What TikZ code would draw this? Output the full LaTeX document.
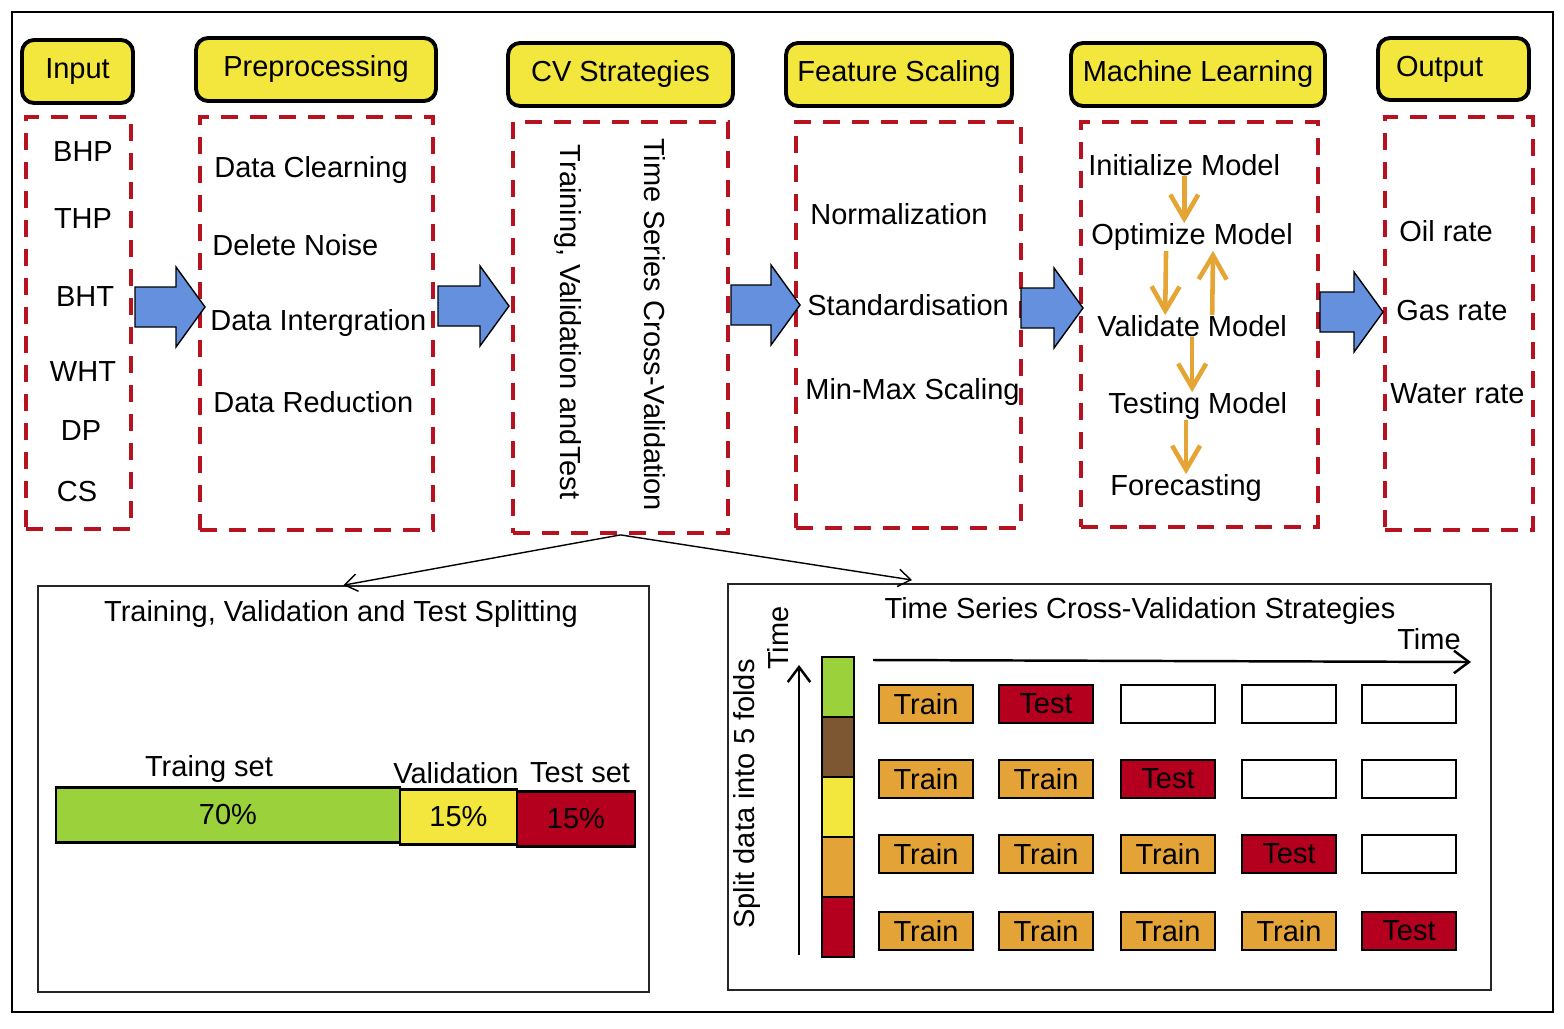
\documentclass[tikz,border=0pt]{standalone}
\usepackage{fontspec}
\setmainfont{Liberation Sans}
\usetikzlibrary{arrows.meta}

\definecolor{hdryellow}{RGB}{243,230,60}
\definecolor{dashred}{RGB}{182,18,32}
\definecolor{arrowblue}{RGB}{101,144,222}
\definecolor{mlorange}{RGB}{228,165,52}
\definecolor{trainorange}{RGB}{228,163,55}
\definecolor{testred}{RGB}{180,0,30}
\definecolor{setgreen}{RGB}{155,210,60}
\definecolor{foldbrown}{RGB}{125,86,50}

% block arrow: start x, centre y, length (in px units)
\newcommand{\blockarrow}[3]{%
  \draw[fill=arrowblue, line width=0.8pt] (#1,#2-20) -- ++(#3-29,0) -- ++(0,-20) -- (#1+#3,#2)
    -- (#1+#3-29,#2+40) -- ++(0,-20) -- (#1,#2+20) -- cycle;}

\begin{document}
\begin{tikzpicture}[x=0.02cm, y=-0.02cm,
  every node/.style={font=\fontsize{16.5}{19}\selectfont},
  header/.style={draw, line width=2.2pt, rounded corners=0.24cm, fill=hdryellow, minimum height=1.26cm, inner sep=0pt},
  dashbox/.style={draw=dashred, line width=2.2pt, dash pattern=on 0.34cm off 0.24cm, inner sep=0pt},
  item/.style={inner sep=0pt},
  listitem/.style={inner sep=0pt, anchor=west},
  mlarrow/.style={draw=mlorange, line width=2.6pt, -{Straight Barb[length=0.48cm, width=0.56cm]}},
  linkarrow/.style={line width=0.8pt, -{Straight Barb[length=0.25cm, width=0.35cm]}},
  timearrow/.style={line width=1.4pt, -{Straight Barb[length=0.3cm, width=0.45cm]}},
  panel/.style={draw=black!85, line width=1pt, minimum height=8.12cm, inner sep=0pt},
  barseg/.style={draw, line width=1.5pt, minimum height=1.1cm, inner sep=0pt},
  foldseg/.style={draw, line width=1.2pt, minimum width=0.64cm, minimum height=1.2cm, inner sep=0pt},
  cell/.style={draw, line width=1.5pt, minimum width=1.88cm, minimum height=0.76cm, inner sep=0pt},
  traincell/.style={cell, fill=trainorange},
  testcell/.style={cell, fill=testred},
  emptycell/.style={cell, fill=white}]

\useasboundingbox (0,0) rectangle (1564,1028);
\draw[line width=1.6pt] (12,12) rectangle (1553,1012);

\node[header, minimum width=2.22cm] (hin) at (77.5,71.5) {Input};
\node[header, minimum width=4.8cm] (hpre) at (316,69.5) {Preprocessing};
\node[header, minimum width=4.5cm] (hcv) at (620.5,74.5) {CV Strategies};
\node[header, minimum width=4.52cm] (hfs) at (899,74.5) {Feature Scaling};
\node[header, minimum width=5.08cm] (hml) at (1198,74.5) {Machine Learning};
\node[header, minimum height=1.24cm, text width=2.3cm, inner xsep=0.36cm, align=left] (hout) at (1453.5,69) {Output};

\node[dashbox, minimum width=2.1cm, minimum height=8.24cm] (inbox) at (78.5,323) {};
\node[dashbox, minimum width=4.66cm, minimum height=8.26cm] (prebox) at (316.5,323.5) {};
\node[dashbox, minimum width=4.3cm, minimum height=8.22cm] (cvbox) at (620.5,327.5) {};
\node[dashbox, minimum width=4.5cm, minimum height=8.12cm] (fsbox) at (908.5,325) {};
\node[dashbox, minimum width=4.74cm, minimum height=8.1cm] (mlbox) at (1199.5,324.5) {};
\node[dashbox, minimum width=2.96cm, minimum height=8.26cm] (outbox) at (1459,323.5) {};

\node[item] (bhp) at (83,152) {BHP};
\node[item] (thp) at (83,219) {THP};
\node[item] (bht) at (85,297) {BHT};
\node[item] (wht) at (83,372) {WHT};
\node[item] (dp) at (81,431) {DP};
\node[item] (cs) at (77,492) {CS};

\node[listitem] (clean) at (214,170) {Data Clearning};
\node[listitem] (noise) at (212,245) {Delete Noise};
\node[listitem] (integ) at (210,323) {Data Intergration};
\node[listitem] (reduc) at (213,402) {Data Reduction};

\node[item, rotate=-90] (tvtlabel) at (568,322) {Training, Validation andTest};
\node[item, rotate=-90] (tscvlabel) at (655,325) {Time Series Cross-Validation};

\node[listitem] (norm) at (810,214) {Normalization};
\node[listitem] (stand) at (807,305) {Standardisation};
\node[listitem] (minmax) at (805,392) {Min-Max Scaling};

\node[listitem] (init) at (1088,165) {Initialize Model};
\node[listitem] (opt) at (1091,237) {Optimize Model};
\node[listitem] (val) at (1097,326) {Validate Model};
\node[listitem] (testm) at (1108,406) {Testing Model};
\node[listitem] (fore) at (1110,488) {Forecasting};

\draw[mlarrow] (init.south) -- (opt.north -| init.south);
\draw[mlarrow] ([xshift=-0.52cm]opt.south) -- ([xshift=-0.54cm]val.north);
\draw[mlarrow] ([xshift=0.4cm]val.north) -- ([xshift=0.42cm]opt.south);
\draw[mlarrow] (val.south) -- (val.south |- testm.north);
\draw[mlarrow] (testm.south -| fore.north) -- (fore.north);

\node[listitem] (oil) at (1399,231) {Oil rate};
\node[listitem] (gas) at (1396,311) {Gas rate};
\node[listitem] (water) at (1390,394) {Water rate};

\blockarrow{135}{307}{70}
\blockarrow{438}{306}{71}
\blockarrow{731}{305}{69}
\blockarrow{1021}{308}{62}
\blockarrow{1320}{312}{63}

\node[panel, minimum width=12.22cm] (tvt) at (343.5,789) {};
\node[panel, minimum width=15.26cm] (tscv) at (1109.5,787) {};
\coordinate (tscvin) at (912,580);
\draw[linkarrow] (cvbox.south) -- (tvt.north);
\draw[linkarrow] (cvbox.south) -- (tscvin);

\node[item] (tvttitle) at (341,614) {Training, Validation and Test Splitting};
\node[item] (trainlabel) at (209,769) {Traing set};
\node[item] (vallabel) at (456,773) {Validation};
\node[item] (testlabel) at (580,773) {Test set};
\node[barseg, fill=setgreen, minimum width=6.88cm] (trainbar) at (228,815) {70\%};
\node[barseg, fill=hdryellow, minimum width=2.34cm] (valbar) at (458.5,817) {15\%};
\node[barseg, fill=testred, minimum width=2.36cm] (testbar) at (576,819) {15\%};

\node[item] (tscvtitle) at (1140,611) {Time Series Cross-Validation Strategies};
\node[item] (timex) at (1429,639) {Time};
\node[item, rotate=90] (timey) at (778,638) {Time};
\node[item, rotate=90] (folds) at (747,794) {Split data into 5 folds};
\coordinate (xstart) at (873,660);
\coordinate (xend) at (1471,662);
\coordinate (ystart) at (799,955);
\coordinate (yend) at (799,665);
\draw[timearrow] (xstart) -- (xend);
\draw[timearrow] (ystart) -- (yend);

\foreach \col [count=\i] in {setgreen,foldbrown,hdryellow,trainorange,testred}
  \node[foldseg, fill=\col] (fold-\i) at (838,627+60*\i) {};

\foreach \r/\y in {1/704,2/779,3/854,4/931}
  \foreach \c/\x in {1/926,2/1046,3/1168,4/1289,5/1409} {
    \pgfmathtruncatemacro\nxt{\r+1}
    \ifnum\c>\r
      \ifnum\c=\nxt
        \node[testcell] (cell-\r-\c) at (\x,\y) {Test};
      \else
        \node[emptycell] (cell-\r-\c) at (\x,\y) {};
      \fi
    \else
      \node[traincell] (cell-\r-\c) at (\x,\y) {Train};
    \fi
  }
\end{tikzpicture}
\end{document}
